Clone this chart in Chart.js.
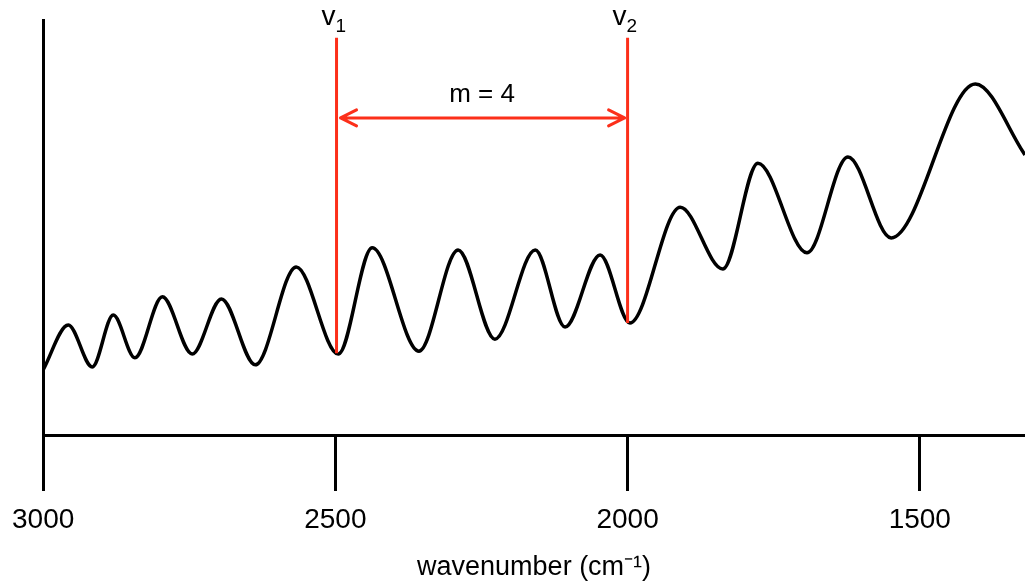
<!DOCTYPE html>
<html>
<head>
<meta charset="utf-8">
<script src="https://cdn.jsdelivr.net/npm/chart.js@4"></script>
<style>
body { margin: 0; background: #fff; }
</style>
</head>
<body>
<canvas id="spectrum" width="1025" height="584"></canvas>
<script>
// spectrum (peaks, troughs and the two ends)
const waveNumbers = [3000, 2957, 2916, 2880, 2843, 2796, 2745, 2695, 2637, 2567, 2495,
    2437, 2357, 2290, 2227, 2158, 2107, 2047, 1996, 1910, 1837, 1777, 1693, 1623, 1549, 1405, 1320]
const absorbance = [0.157, 0.265, 0.164, 0.289, 0.186, 0.333, 0.195, 0.328, 0.169, 0.405, 0.195,
    0.451, 0.202, 0.446, 0.231, 0.446, 0.26, 0.434, 0.27, 0.549, 0.4, 0.655, 0.439, 0.67, 0.475, 0.846, 0.675]

const tickValues = [3000, 2500, 2000, 1500]

// fringe markers
const markerPositions = [2498, 2000]
const markerSubscripts = ["1", "2"]
const markerBottoms = [0.197, 0.27]
const markerTop = 0.957
const arrowLevel = 0.764
const fringeLabel = "m = 4"
const fringeLabelLevel = 0.82

const fontFamily = "'Liberation Sans', Arial, Helvetica, sans-serif"
const red = "#fc2f1a"

const fringeMarkers = {
    id: "fringeMarkers",
    afterDatasetsDraw: (chart) => {
        const ctx = chart.ctx
        const xScale = chart.scales.x
        const yScale = chart.scales.y
        const xs = markerPositions.map((v) => xScale.getPixelForValue(v))
        const top = yScale.getPixelForValue(markerTop)

        ctx.save()
        ctx.strokeStyle = red
        ctx.lineWidth = 3
        xs.forEach((px, i) => {
            ctx.beginPath()
            ctx.moveTo(px, top)
            ctx.lineTo(px, yScale.getPixelForValue(markerBottoms[i]))
            ctx.stroke()

            ctx.fillStyle = "#000"
            ctx.textBaseline = "alphabetic"
            ctx.textAlign = "right"
            ctx.font = "28px " + fontFamily
            ctx.fillText("v", px - 1, top - 13)
            ctx.textAlign = "left"
            ctx.font = "19px " + fontFamily
            ctx.fillText(markerSubscripts[i], px - 1, top - 6)
        })

        // double headed arrow
        const ay = yScale.getPixelForValue(arrowLevel)
        const left = xs[0] + 4
        const right = xs[1] - 3
        ctx.lineCap = "round"
        ctx.lineJoin = "round"
        ctx.beginPath()
        ctx.moveTo(left, ay)
        ctx.lineTo(right, ay)
        ctx.moveTo(left + 16, ay - 8)
        ctx.lineTo(left, ay)
        ctx.lineTo(left + 16, ay + 8)
        ctx.moveTo(right - 16, ay - 8)
        ctx.lineTo(right, ay)
        ctx.lineTo(right - 16, ay + 8)
        ctx.stroke()

        ctx.fillStyle = "#000"
        ctx.font = "26px " + fontFamily
        ctx.textAlign = "center"
        ctx.textBaseline = "middle"
        ctx.fillText(fringeLabel, (xs[0] + xs[1]) / 2, yScale.getPixelForValue(fringeLabelLevel))
        ctx.restore()
    },
}

const config = {
    type: "line",
    data: {
        datasets: [
            {
                data: waveNumbers.map((w, i) => ({ x: w, y: absorbance[i] })),
                borderColor: "#000",
                borderWidth: 3.5,
                pointRadius: 0,
                fill: false,
                cubicInterpolationMode: "monotone",
            },
        ],
    },
    options: {
        responsive: false,
        animation: false,
        layout: {
            padding: { top: 20, left: 43, right: 0, bottom: 0 },
        },
        plugins: {
            legend: { display: false },
            tooltip: { enabled: false },
        },
        scales: {
            x: {
                type: "linear",
                reverse: true,
                min: 1320,
                max: 3000,
                afterBuildTicks: (scale) => {
                    scale.ticks = tickValues.map((v) => ({ value: v }))
                },
                border: { display: true, color: "#000", width: 3 },
                grid: {
                    display: true,
                    drawOnChartArea: false,
                    drawTicks: true,
                    tickLength: 56,
                    tickWidth: 3,
                    tickColor: "#000",
                },
                ticks: {
                    color: "#000",
                    padding: 12,
                    maxRotation: 0,
                    autoSkip: false,
                    font: { family: fontFamily, size: 28 },
                    callback: (v) => String(v),
                },
                title: {
                    display: true,
                    text: "wavenumber (cm⁻¹)",
                    color: "#000",
                    font: { family: fontFamily, size: 27 },
                    padding: { top: 3, bottom: 0 },
                },
            },
            y: {
                min: 0,
                max: 1,
                border: { display: true, color: "#000", width: 3 },
                grid: { display: false, drawTicks: false },
                ticks: { display: false },
            },
        },
    },
    plugins: [fringeMarkers],
}

const chart = new Chart(document.getElementById("spectrum"), config)
</script>
</body>
</html>
